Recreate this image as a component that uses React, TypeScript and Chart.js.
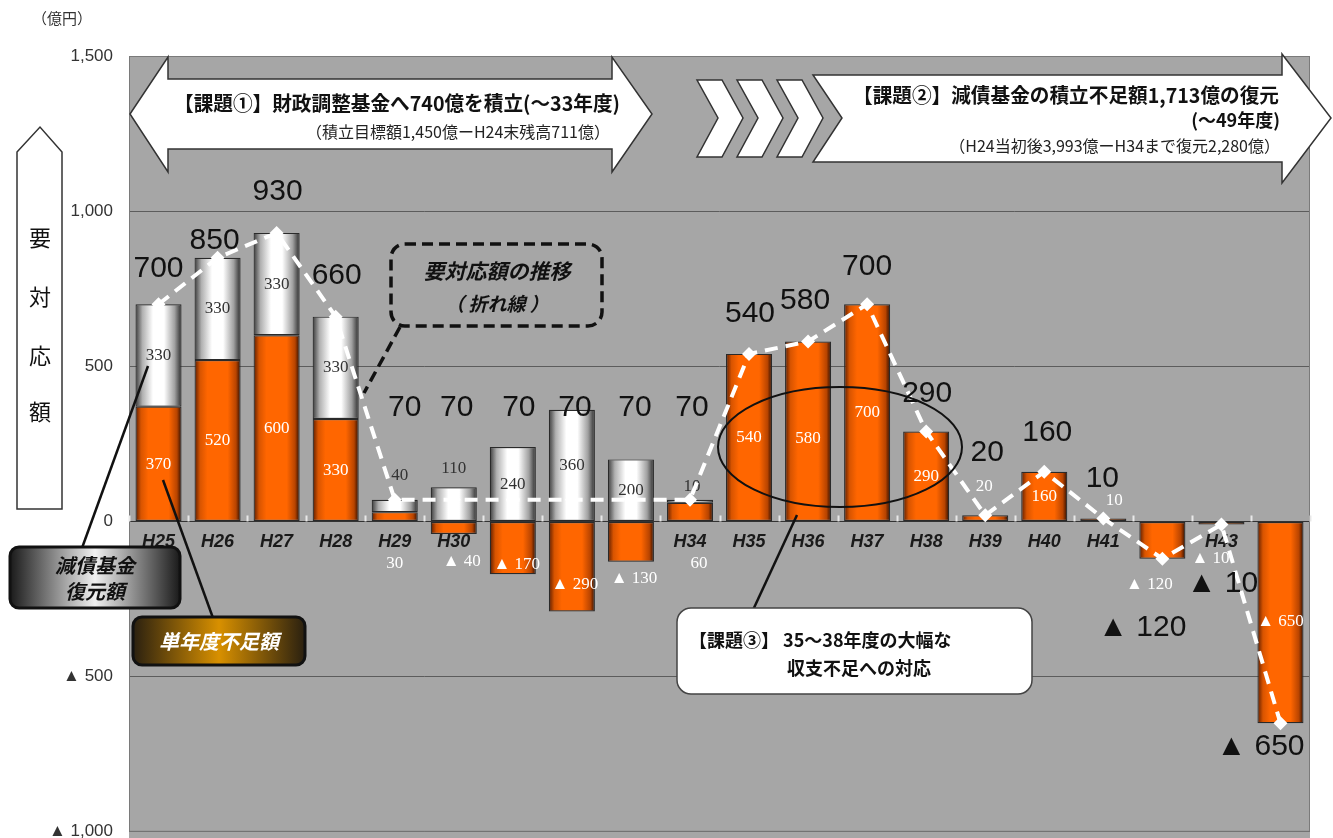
import React, { useEffect, useRef } from 'react';
import { Chart, registerables } from 'chart.js';

Chart.register(...registerables);

// ---------------- data ----------------
const categories = ['H25', 'H26', 'H27', 'H28', 'H29', 'H30', 'H31', 'H32', 'H33', 'H34', 'H35', 'H36', 'H37', 'H38', 'H39', 'H40', 'H41', 'H42', 'H43', 'H44'];
// 単年度不足額
const shortfall = [370, 520, 600, 330, 30, -40, -170, -290, -130, 60, 540, 580, 700, 290, 20, 160, 10, -120, -10, -650];
// 減債基金復元額
const restoration = [330, 330, 330, 330, 40, 110, 240, 360, 200, 10, 0, 0, 0, 0, 0, 0, 0, 0, 0, 0];
// 要対応額 (折れ線)
const required = [700, 850, 930, 660, 70, 70, 70, 70, 70, 70, 540, 580, 700, 290, 20, 160, 10, -120, -10, -650];
const yTickValues = [-1000, -500, 0, 500, 1000, 1500];

// ---------------- label layout (y-axis units / px shifts) ----------------
const totalLabelAt = [815, 906, 1061, 793, 366, 366, 366, 366, 366, 366, 670, 711, 822, 412, 221, 286, 137, -344, -202, -725];
const totalLabelDx = [0, -3, 1, 1, 10, 3, 6, 3, 4, 2, 1, -3, 0, 1, 2, 3, -1, -20, 1, -20];
const shortfallLabelAt: (number | null)[] = [null, null, null, null, -134, -128, -138, -202, -183, -134, null, 268, null, null, 114, null, 66, -202, -118, -322];
const shortfallLabelDx = [0, 0, 0, 0, 0, 8, 4, 3, 3, 9, 0, 0, 0, 0, -1, 0, 11, -13, -11, 0];
const restorationLabelAt: (number | null)[] = [null, null, null, null, 147, 172, null, null, null, 114, null, null, null, null, null, null, null, null, null, null];
const restorationLabelDx = [0, 0, 0, 0, 5, 0, 0, 0, 0, 2, 0, 0, 0, 0, 0, 0, 0, 0, 0, 0];

const BAR_PCT = 0.78;
const JP = '"Noto Sans CJK JP", "Noto Sans", sans-serif';
const SANS = '"Liberation Sans", Arial, "DejaVu Sans", sans-serif';
const SERIF = '"Liberation Serif", "DejaVu Serif", serif';

const fmt = (v: number) => Math.abs(v).toLocaleString('en-US');
const tri = (v: number) => (v < 0 ? '▲ ' + fmt(v) : fmt(v));

const ORANGE_STOPS: [number, string][] = [[0, '#5a1c00'], [0.12, '#d85400'], [0.28, '#ff6600'], [0.72, '#ff6600'], [0.9, '#b84400'], [1, '#2a0c00']];
const WHITE_STOPS: [number, string][] = [[0, '#3a3a3a'], [0.15, '#b0b0b0'], [0.38, '#ffffff'], [0.62, '#ffffff'], [0.85, '#a0a0a0'], [1, '#2a2a2a']];

function barGradient(stops: [number, string][]) {
  return (c: any) => {
    const chart = c.chart;
    const xs = chart.scales && chart.scales.x;
    if (!chart.chartArea || !xs || c.dataIndex === undefined || !xs.width) return stops[2][1];
    const cx = xs.getPixelForValue(c.dataIndex);
    const w = (xs.width / categories.length) * BAR_PCT;
    const g = chart.ctx.createLinearGradient(cx - w / 2, 0, cx + w / 2, 0);
    stops.forEach(([o, col]) => g.addColorStop(o, col));
    return g;
  };
}

function rrect(ctx: CanvasRenderingContext2D, x: number, y: number, w: number, h: number, r: number) {
  ctx.beginPath();
  ctx.moveTo(x + r, y);
  ctx.arcTo(x + w, y, x + w, y + h, r);
  ctx.arcTo(x + w, y + h, x, y + h, r);
  ctx.arcTo(x, y + h, x, y, r);
  ctx.arcTo(x, y, x + w, y, r);
  ctx.closePath();
}

function txt(ctx: CanvasRenderingContext2D, s: string, x: number, y: number, font: string, color: string, align: CanvasTextAlign = 'center', maxW?: number) {
  ctx.font = font;
  ctx.fillStyle = color;
  ctx.textAlign = align;
  ctx.textBaseline = 'middle';
  if (maxW) ctx.fillText(s, x, y, maxW);
  else ctx.fillText(s, x, y);
}

function poly(ctx: CanvasRenderingContext2D, pts: number[][], fill: string, stroke: string, lw: number) {
  ctx.beginPath();
  pts.forEach(([x, y], i) => (i ? ctx.lineTo(x, y) : ctx.moveTo(x, y)));
  ctx.closePath();
  ctx.fillStyle = fill;
  ctx.fill();
  ctx.strokeStyle = stroke;
  ctx.lineWidth = lw;
  ctx.stroke();
}

function line(ctx: CanvasRenderingContext2D, x1: number, y1: number, x2: number, y2: number, color: string, lw: number, dash: number[] = []) {
  ctx.beginPath();
  ctx.setLineDash(dash);
  ctx.moveTo(x1, y1);
  ctx.lineTo(x2, y2);
  ctx.strokeStyle = color;
  ctx.lineWidth = lw;
  ctx.stroke();
  ctx.setLineDash([]);
}

const decor = {
  id: 'decor',
  beforeDraw(chart: any) {
    const { ctx, chartArea: a } = chart;
    ctx.save();
    ctx.fillStyle = '#a6a6a6';
    ctx.fillRect(a.left, a.top, a.right - a.left, a.bottom - a.top + 8);
    ctx.restore();
  },
  afterDatasetDraw(chart: any, args: any) {
    const { ctx } = chart;
    const xs = chart.scales.x;
    const ys = chart.scales.y;
    ctx.save();
    if (args.index === 0) {
      shortfall.forEach((v, i) => {
        const at = shortfallLabelAt[i];
        const x = xs.getPixelForValue(i) + shortfallLabelDx[i];
        const y = at === null ? (ys.getPixelForValue(0) + ys.getPixelForValue(v)) / 2 : ys.getPixelForValue(at);
        txt(ctx, tri(v), x, y, `17px ${SERIF}`, '#ffffff');
      });
    }
    if (args.index === 1) {
      restoration.forEach((v, i) => {
        if (!v) return;
        const base = Math.max(shortfall[i], 0);
        const at = restorationLabelAt[i];
        const x = xs.getPixelForValue(i) + restorationLabelDx[i];
        const y = at === null ? (ys.getPixelForValue(base) + ys.getPixelForValue(base + v)) / 2 : ys.getPixelForValue(at);
        txt(ctx, tri(v), x, y, `17px ${SERIF}`, '#333333');
      });
    }
    ctx.restore();
  },
  afterDraw(chart: any) {
    const { ctx, chartArea: a } = chart;
    const xs = chart.scales.x;
    const ys = chart.scales.y;
    ctx.save();

    // plot border
    ctx.strokeStyle = '#7a7a7a';
    ctx.lineWidth = 1;
    ctx.strokeRect(a.left + 0.5, a.top + 0.5, a.right - a.left - 1, a.bottom - a.top - 1);

    // small tick marks on the zero line at category boundaries
    const zy = ys.getPixelForValue(0);
    const step = xs.width / categories.length;
    for (let i = 0; i <= categories.length; i++) {
      const x = Math.round(xs.left + i * step) + 0.5;
      line(ctx, x, zy - 6, x, zy, '#e8e8e8', 2);
    }

    // big total labels
    required.forEach((v, i) => {
      const x = xs.getPixelForValue(i) + totalLabelDx[i];
      const y = ys.getPixelForValue(totalLabelAt[i]);
      txt(ctx, tri(v), x, y, `30px ${SANS}`, '#111111');
    });

    // (億円)
    txt(ctx, '（億円）', 62, 18, `15px ${JP}`, '#333', 'center');

    // vertical arrow 要対応額
    poly(ctx, [[17, 152], [40, 127], [62, 152], [62, 509], [17, 509]], '#ffffff', '#333', 1.5);
    ['要', '対', '応', '額'].forEach((ch, i) => txt(ctx, ch, 40, [238, 297, 356, 412][i], `22px ${JP}`, '#111'));

    // arrow 1 (double headed)
    poly(ctx, [[130, 114], [168, 57], [168, 79], [612, 79], [612, 57], [652, 114], [612, 172], [612, 149], [168, 149], [168, 172]], '#ffffff', '#333', 1.5);
    txt(ctx, '【課題①】財政調整基金へ740億を積立(～33年度)', 397, 103, `bold 20px ${JP}`, '#111', 'center', 446);
    txt(ctx, '（積立目標額1,450億ーH24末残高711億）', 610, 132, `16px ${JP}`, '#222', 'right', 350);

    // arrow 2 (chevrons + arrow)
    for (let i = 0; i < 3; i++) {
      const x0 = 697 + i * 40;
      poly(ctx, [[x0, 80], [x0 + 25, 80], [x0 + 46, 118], [x0 + 25, 157], [x0, 157], [x0 + 21, 118]], '#ffffff', '#333', 1.5);
    }
    poly(ctx, [[813, 75], [1282, 75], [1282, 54], [1331, 118], [1282, 183], [1282, 162], [813, 162], [842, 118]], '#ffffff', '#333', 1.5);
    txt(ctx, '【課題②】減債基金の積立不足額1,713億の復元', 1279, 95, `bold 20px ${JP}`, '#111', 'right', 426);
    txt(ctx, '(～49年度)', 1280, 120, `bold 18px ${JP}`, '#111', 'right');
    txt(ctx, '（H24当初後3,993億ーH34まで復元2,280億）', 1280, 146, `16px ${JP}`, '#222', 'right', 372);

    // dashed callout
    ctx.lineWidth = 3.5;
    ctx.setLineDash([11, 6]);
    ctx.strokeStyle = '#111';
    rrect(ctx, 391, 244, 211, 82, 14);
    ctx.stroke();
    ctx.setLineDash([]);
    line(ctx, 400, 327, 364, 393, '#111', 3.5, [11, 6]);
    txt(ctx, '要対応額の推移', 497, 271, `italic bold 21px ${JP}`, '#111');
    txt(ctx, '（ 折れ線 ）', 497, 304, `italic bold 19px ${JP}`, '#111');

    // ellipse for 課題③
    ctx.beginPath();
    ctx.ellipse(840, 447, 122, 60, 0, 0, Math.PI * 2);
    ctx.strokeStyle = '#111';
    ctx.lineWidth = 2;
    ctx.stroke();
    line(ctx, 797, 515, 753, 610, '#111', 2.5);

    // callout box 課題③
    rrect(ctx, 677, 608, 355, 86, 14);
    ctx.fillStyle = '#ffffff';
    ctx.fill();
    ctx.strokeStyle = '#444';
    ctx.lineWidth = 1.5;
    ctx.stroke();
    txt(ctx, '【課題③】 35～38年度の大幅な', 689, 640, `bold 18px ${JP}`, '#111', 'left', 290);
    txt(ctx, '収支不足への対応', 787, 668, `bold 18px ${JP}`, '#111', 'left');

    // legend leader lines
    line(ctx, 148, 366, 82, 548, '#111', 2.5);
    line(ctx, 163, 480, 213, 618, '#111', 2.5);

    // legend box: 減債基金復元額
    let g = ctx.createLinearGradient(10, 0, 180, 0);
    g.addColorStop(0, '#1a1a1a');
    g.addColorStop(0.5, '#f0f0f0');
    g.addColorStop(1, '#1a1a1a');
    rrect(ctx, 10, 547, 170, 61, 9);
    ctx.fillStyle = g;
    ctx.fill();
    ctx.strokeStyle = '#111';
    ctx.lineWidth = 3;
    ctx.stroke();
    txt(ctx, '減債基金', 95, 565, `italic bold 20px ${JP}`, '#111');
    txt(ctx, '復元額', 95, 591, `italic bold 20px ${JP}`, '#111');

    // legend box: 単年度不足額
    g = ctx.createLinearGradient(133, 0, 305, 0);
    g.addColorStop(0, '#2a2010');
    g.addColorStop(0.5, '#d89000');
    g.addColorStop(1, '#2a2010');
    rrect(ctx, 133, 617, 172, 48, 9);
    ctx.fillStyle = g;
    ctx.fill();
    ctx.strokeStyle = '#111';
    ctx.lineWidth = 3;
    ctx.stroke();
    txt(ctx, '単年度不足額', 219, 641, `italic bold 20px ${JP}`, '#ffffff');

    ctx.restore();
  },
};

export default function App() {
  const ref = useRef<HTMLCanvasElement | null>(null);

  useEffect(() => {
    if (!ref.current) return;
    const chart = new Chart(ref.current, {
      data: {
        labels: categories,
        datasets: [
          {
            type: 'bar',
            label: '単年度不足額',
            data: shortfall,
            stack: 'a',
            order: 2,
            backgroundColor: barGradient(ORANGE_STOPS),
            borderColor: '#2a2a2a',
            borderWidth: 1.2,
            borderSkipped: false,
            barPercentage: BAR_PCT,
            categoryPercentage: 1,
          } as any,
          {
            type: 'bar',
            label: '減債基金復元額',
            data: restoration.map((v) => (v === 0 ? null : v)),
            stack: 'a',
            order: 2,
            backgroundColor: barGradient(WHITE_STOPS),
            borderColor: '#2a2a2a',
            borderWidth: 1.2,
            borderSkipped: false,
            barPercentage: BAR_PCT,
            categoryPercentage: 1,
          } as any,
          {
            type: 'line',
            label: '要対応額',
            data: required,
            stack: 'line',
            order: 0,
            borderColor: '#ffffff',
            borderWidth: 4,
            borderDash: [13, 8],
            pointStyle: 'rectRot',
            pointRadius: 7,
            pointBackgroundColor: '#ffffff',
            pointBorderColor: '#ffffff',
            pointBorderWidth: 0,
            tension: 0,
          } as any,
        ],
      },
      options: {
        responsive: false,
        animation: false,
        devicePixelRatio: 1,
        layout: { padding: { left: 0, right: 23, top: 56, bottom: 0 } },
        plugins: { legend: { display: false }, tooltip: { enabled: false } },
        scales: {
          x: {
            type: 'category',
            stacked: true,
            position: { y: 0 } as any,
            z: 1,
            afterFit: (s: any) => {
              s.height = 0;
            },
            grid: { display: false, drawTicks: false },
            border: { display: false },
            ticks: {
              autoSkip: false,
              maxRotation: 0,
              padding: 10,
              color: '#1a1a1a',
              font: { family: SANS, size: 18, style: 'italic', weight: 'bold' },
            },
          },
          y: {
            type: 'linear',
            stacked: true,
            min: -1000,
            max: 1500,
            afterFit: (s: any) => {
              s.width = 129;
            },
            afterBuildTicks: (s: any) => {
              s.ticks = yTickValues.map((v) => ({ value: v }));
            },
            grid: {
              color: (c: any) => (c.tick && c.tick.value === 0 ? '#333333' : '#5c5c5c'),
              lineWidth: 1,
              drawTicks: false,
            },
            border: { display: false },
            ticks: {
              padding: 16,
              color: '#333',
              font: { family: SANS, size: 17 },
              callback: (v: any) => tri(Number(v)),
            },
          },
        },
      } as any,
      plugins: [decor],
    });
    return () => chart.destroy();
  }, []);

  return (
    <div style={{ position: 'absolute', left: 0, top: 0, width: 1333, height: 838, overflow: 'hidden', background: '#fff' }}>
      <canvas ref={ref} width={1333} height={858} style={{ display: 'block' }} />
    </div>
  );
}
